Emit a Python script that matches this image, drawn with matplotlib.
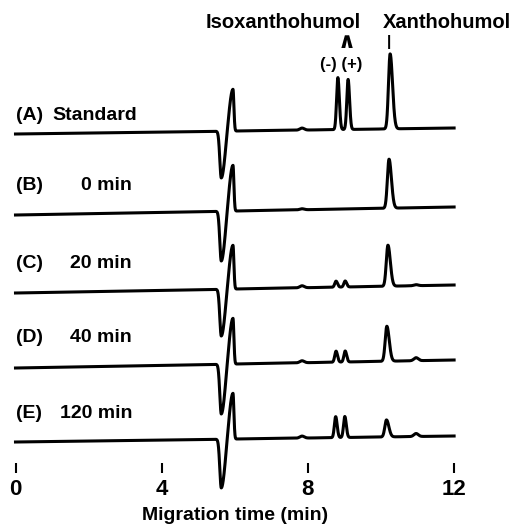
import numpy as np
import matplotlib
matplotlib.use("Agg")
import matplotlib.pyplot as plt

plt.rcParams['font.family'] = ['Liberation Sans', 'DejaVu Sans']
plt.rcParams['font.weight'] = 'bold'
plt.rcParams['mathtext.fontset'] = 'dejavusans'

# ---- data ----
trace_letters = ["(A)", "(B)", "(C)", "(D)", "(E)"]
trace_names = ["Standard", "0 min", "20 min", "40 min", "120 min"]
baseline_start = [391, 310, 232, 157, 83]      # signal level at t=0 (arbitrary units, stacked)
baseline_drift = [6, 8, 8, 8, 6]               # rise of baseline over 12 min
solvent_dip = [47, 50, 47, 50, 49]             # depth of negative system peak (~5.6 min)
solvent_peak = [42, 46, 44, 46, 46]            # height of positive system peak (~5.95 min)
iso_minus_time = [8.82, 8.80, 8.77, 8.77, 8.76]
iso_plus_time = [9.10, 9.08, 9.02, 9.02, 9.01]
iso_minus_height = [52, 0, 6, 11, 21]
iso_plus_height = [50, 0, 6, 11, 21]
xan_time = [10.25, 10.22, 10.19, 10.16, 10.15]
xan_height = [75, 49, 41, 35, 17]
bump1_height = [2, 1, 2, 2, 2]                 # small bump ~7.84 min
bump2_height = [0, 0, 1, 3, 3]                 # small bump ~10.96 min
tick_values = [0, 4, 8, 12]

W, H = 515, 525
fig = plt.figure(figsize=(W / 100, H / 100), dpi=100)
ax = fig.add_axes([0, 0, 1, 1])
px_per_min = 36.55
x0 = 15.5
ax.set_xlim(-x0 / px_per_min, (W - x0) / px_per_min)
ax.set_ylim(0, H)


def agauss(t, c, sl, sr):
    s = np.where(t < c, sl, sr)
    return np.exp(-0.5 * ((t - c) / s) ** 2)


t = np.linspace(0, 12, 6000)
for i in range(5):
    y = baseline_start[i] + baseline_drift[i] * t / 12
    y = y - solvent_dip[i] * agauss(t, 5.63, 0.04, 0.1)
    y = y + solvent_peak[i] * agauss(t, 5.95, 0.1, 0.025)
    y = y + iso_minus_height[i] * agauss(t, iso_minus_time[i], 0.035, 0.04)
    y = y + iso_plus_height[i] * agauss(t, iso_plus_time[i], 0.035, 0.04)
    y = y + xan_height[i] * agauss(t, xan_time[i], 0.045, 0.065)
    y = y + bump1_height[i] * agauss(t, 7.84, 0.06, 0.06)
    y = y + bump2_height[i] * agauss(t, 10.96, 0.06, 0.06)
    ax.plot(t, y, color='black', lw=2.2, solid_joinstyle='round')

# axis: ticks only
for s in ['left', 'right', 'top']:
    ax.spines[s].set_visible(False)
ax.spines['bottom'].set_position(('data', H - 463))
ax.spines['bottom'].set_visible(False)
ax.set_yticks([])
ax.set_xticks(tick_values)
ax.set_xticklabels([str(v) for v in tick_values])
ax.tick_params(axis='x', direction='out', length=7.5, width=1.5, pad=4,
               labelsize=16)
for lab in ax.get_xticklabels():
    lab.set_fontweight('bold')


def ftext(px, py, s, **kw):
    fig.text(px / W, 1 - py / H, s, **kw)


ftext(235, 515, "Migration time (min)", ha='center', va='center', fontsize=14, fontweight='bold')

label_y = [115, 186, 263, 337, 413]
for i in range(5):
    ftext(16, label_y[i], trace_letters[i], ha='left', va='center', fontsize=14, fontweight='bold')
    if i == 0:
        ftext(52, label_y[i], trace_names[i], ha='left', va='center', fontsize=14, fontweight='bold')
    else:
        ftext(132, label_y[i], trace_names[i], ha='right', va='center', fontsize=14, fontweight='bold')

ftext(283, 23, "Isoxanthohumol", ha='center', va='center', fontsize=14.5, fontweight='bold')
ftext(447, 23, "Xanthohumol", ha='center', va='center', fontsize=14.5, fontweight='bold')
ftext(345, 43, r"$\wedge$", ha='center', va='center', fontsize=16, fontweight='bold')
ftext(341, 64, "(-) (+)", ha='center', va='center', fontsize=12, fontweight='bold')
ftext(389, 42, "|", ha='center', va='center', fontsize=11, fontweight='bold')

fig.savefig("out.png", dpi=100)
